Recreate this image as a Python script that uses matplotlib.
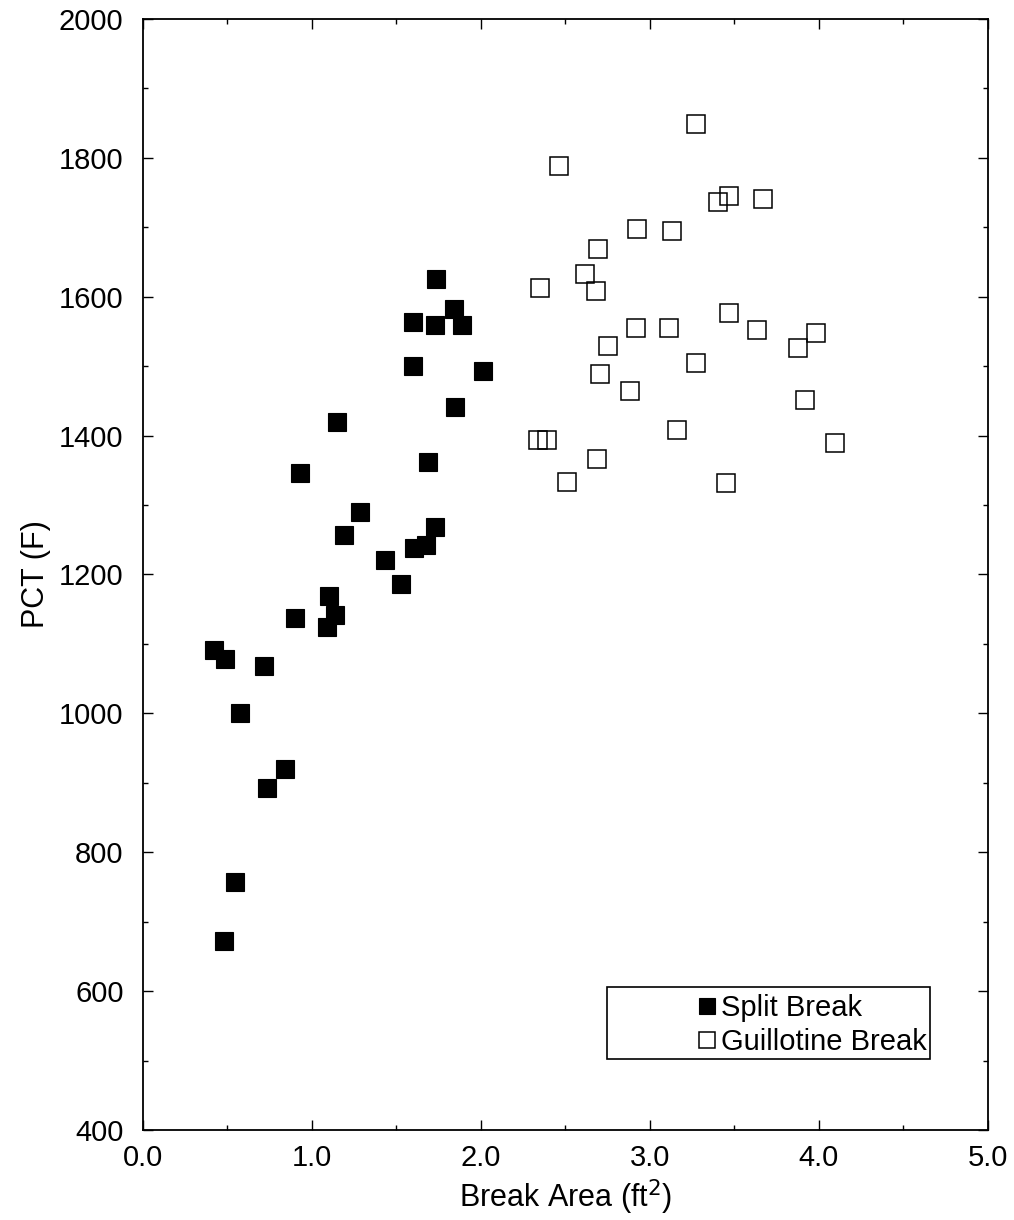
import matplotlib.pyplot as plt
from matplotlib.patches import Rectangle
from matplotlib.ticker import MultipleLocator

plt.rcParams['font.family'] = ['Liberation Sans', 'DejaVu Sans']

# split break (filled squares)
split_x = [1.734, 1.840, 1.598, 1.728, 1.888, 1.598, 2.012, 1.846, 1.148, 0.929,
           1.686, 1.284, 1.189, 1.432, 1.728, 1.604, 1.675, 1.527, 1.101, 1.136,
           1.089, 0.899, 0.420, 0.485, 0.716, 0.574, 0.840, 0.734, 0.544, 0.479]
split_y = [1626, 1582, 1564, 1559, 1559, 1500, 1493, 1441, 1419, 1346,
           1362, 1290, 1257, 1221, 1268, 1238, 1242, 1186, 1169, 1141,
           1124, 1137, 1091, 1078, 1068, 1000, 920, 892, 757, 672]

# guillotine break (open squares)
guil_x = [3.272, 2.462, 3.467, 3.402, 3.669, 2.923, 3.130, 2.692, 2.615, 2.349,
          2.680, 3.467, 2.917, 3.112, 3.633, 3.982, 2.751, 3.876, 3.272, 2.704,
          2.882, 3.917, 3.160, 2.337, 2.391, 4.095, 2.686, 2.509, 3.450]
guil_y = [1848, 1788, 1745, 1737, 1741, 1698, 1695, 1668, 1632, 1612,
          1608, 1577, 1555, 1555, 1552, 1547, 1529, 1526, 1504, 1488,
          1464, 1451, 1408, 1393, 1393, 1389, 1366, 1333, 1331]

fig = plt.figure(figsize=(10.14, 12.2), dpi=100)
ax = fig.add_axes([0.141, 0.0738, 0.8333, 0.9107])

ax.plot(split_x, split_y, 's', color='black', ms=12.5, mec='black', mew=0.8,
        label='Split Break')
ax.plot(guil_x, guil_y, 's', mfc='none', mec='black', ms=12.5, mew=1.1,
        label='Guillotine Break')

ax.set_xlim(0, 5)
ax.set_ylim(400, 2000)
ax.xaxis.set_major_locator(MultipleLocator(1.0))
ax.xaxis.set_minor_locator(MultipleLocator(0.5))
ax.yaxis.set_major_locator(MultipleLocator(200))
ax.yaxis.set_minor_locator(MultipleLocator(100))
ax.set_xticklabels(['%.1f' % v for v in ax.get_xticks()])
ax.tick_params(which='both', direction='in', top=True, right=True, labelsize=21)
ax.tick_params(which='major', length=7, width=1)
ax.tick_params(which='minor', length=3.5, width=1)
ax.tick_params(axis='x', pad=10)
ax.tick_params(axis='y', pad=14)
for s in ax.spines.values():
    s.set_linewidth(1.3)

ax.set_xlabel('Break Area (ft$^2$)', fontsize=22, labelpad=4)
ax.set_ylabel('PCT (F)', fontsize=22, labelpad=6)

# legend box drawn separately: text sits at the right of a wide frame
ax.add_patch(Rectangle((0.549, 0.0639), 0.382, 0.0648, transform=ax.transAxes,
                       fill=False, edgecolor='black', lw=1.2, zorder=5))
leg = ax.legend(loc='upper right', bbox_to_anchor=(0.928, 0.122), fontsize=21,
                frameon=False, handletextpad=0.15, handlelength=0.7,
                borderpad=0, labelspacing=0.2, borderaxespad=0,
                markerscale=0.9)

fig.savefig('out.png', dpi=100)
